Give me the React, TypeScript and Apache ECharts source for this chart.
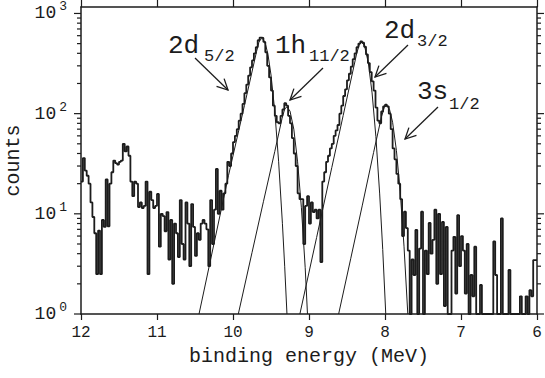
import React, { useEffect, useRef } from 'react';
import * as echarts from 'echarts';

// ---- data ----
// histogram: bins of 0.025 MeV, starting at 12 MeV and going down to 6 MeV
const E_START = 12;
const BIN_WIDTH = 0.025;
const counts: number[] = [
  21, 36, 27, 24, 20, 13, 9.3, 6.4, 2.5, 6.8,
  2.5, 8.7, 7.4, 22, 7.5, 20, 26, 34, 32, 31,
  33, 34, 50, 42, 47, 38, 21, 15, 21, 20,
  11.7, 13, 11.4, 12, 21, 2.5, 16.6, 13.7, 11.4, 12,
  15.8, 4.7, 10, 9.5, 6.7, 10.4, 3.5, 8.7, 2.0, 8,
  6.4, 3.7, 13.7, 5, 3.5, 13, 8, 3.0, 12.5, 7.4,
  3.8, 6.4, 5.5, 8, 8.7, 8, 7, 3, 13.7, 5,
  11, 28, 10, 17, 11, 16, 20, 33, 30, 40,
  52, 60, 70, 85, 100, 125, 160, 195, 240, 290,
  340, 400, 460, 540, 575, 570, 520, 410, 300, 230,
  170, 120, 95, 82, 80, 95, 110, 127, 120, 95,
  80, 57, 40, 30, 16, 14, 14, 5, 12, 15,
  8, 13, 10.4, 11, 9, 11, 3.3, 21, 26, 33,
  38, 45, 50, 60, 68, 77, 100, 120, 150, 175,
  215, 250, 295, 350, 400, 460, 500, 525, 510, 465,
  390, 320, 260, 210, 170, 115, 85, 80, 105, 118,
  123, 118, 100, 70, 45, 35, 25, 20, 14, 6,
  10.5, 7.2, 4.3, 1, 3.5, 2.45, 6.9, 1, 4.5, 10.5,
  1, 4.3, 2.5, 8.1, 4, 5.5, 11, 2, 10, 2.5,
  8.3, 1.2, 7.4, 1, 1, 4.3, 5.9, 1.6, 9.7, 3,
  6, 4.3, 1.6, 5, 1, 2.45, 1.5, 4.7, 1, 1,
  1.95, 1, 1, 1, 1, 1, 1, 5.3, 2.45, 1,
  1, 9, 1, 1, 1, 2.75, 1, 1, 1, 1,
  1, 1.5, 1, 1, 1.5, 1, 1.73, 1.5, 3.45, 3.45,
];

// fitted line shapes [binding energy, counts]
const fit2d52: number[][] = [
  [10.447, 1], [10.06, 24], [9.85, 120], [9.69, 417], [9.66, 513], [9.64, 550],
  [9.62, 562], [9.6, 550], [9.57, 486], [9.54, 390], [9.5, 243], [9.45, 105],
  [9.4, 33.5], [9.35, 8.05], [9.32, 3.0], [9.29, 1],
];
const fit1h112: number[][] = [
  [9.93, 1], [9.75, 4.1], [9.6, 13.2], [9.45, 42], [9.354, 90], [9.32, 111],
  [9.29, 117], [9.25, 106], [9.2, 70], [9.15, 33], [9.1, 11.5], [9.05, 2.9], [9.02, 1],
];
const fit2d32: number[][] = [
  [9.12, 1], [8.9, 5.8], [8.7, 29], [8.55, 96], [8.374, 394], [8.34, 485],
  [8.307, 519], [8.27, 477], [8.22, 324], [8.17, 161], [8.12, 59], [8.07, 15.8],
  [8.03, 4.4], [7.99, 1],
];
const fit3s12: number[][] = [
  [8.61, 1], [8.45, 3.6], [8.3, 12], [8.15, 41], [8.048, 92], [8.01, 115],
  [7.98, 121], [7.94, 110], [7.9, 82], [7.85, 43], [7.8, 16.7], [7.75, 4.75], [7.7, 1],
];

const X_MIN = 6;
const X_MAX = 12;
const Y_MIN = 1;
const Y_MAX = 1160;
const DECADES = [1, 10, 100];
const MANTISSAS = [1, 2, 3, 4, 5, 6, 7, 8, 9];

const FONT = "'Liberation Mono', 'Courier New', monospace";
const INK = '#1c1c1c';

function arrow(x1: number, y1: number, x2: number, y2: number) {
  const th = Math.atan2(y2 - y1, x2 - x1);
  const L = 12;
  const s = 0.47;
  return [
    { type: 'line', silent: true, shape: { x1, y1, x2, y2 }, style: { stroke: INK, lineWidth: 1.3 } },
    {
      type: 'polyline', silent: true,
      shape: {
        points: [
          [x2 - L * Math.cos(th - s), y2 - L * Math.sin(th - s)],
          [x2, y2],
          [x2 - L * Math.cos(th + s), y2 - L * Math.sin(th + s)],
        ],
      },
      style: { stroke: INK, lineWidth: 1.3, fill: 'none' },
    },
  ];
}

function label(text: string, sub: string, x: number, y: number, subX: number, subY: number) {
  return [
    { type: 'text', silent: true, x, y, style: { text, fontFamily: FONT, fontSize: 26, fill: INK, verticalAlign: 'middle', align: 'left' } },
    { type: 'text', silent: true, x: subX, y: subY, style: { text: sub, fontFamily: FONT, fontSize: 17, fill: INK, verticalAlign: 'middle', align: 'left' } },
  ];
}

export default function App() {
  const ref = useRef<HTMLDivElement>(null);
  useEffect(() => {
    const el = ref.current;
    if (!el) return;
    const chart = echarts.init(el, undefined, { renderer: 'svg' });

    const histData: number[][] = counts.map((c, i) => [E_START - BIN_WIDTH * i, c]);
    histData.push([E_START - BIN_WIDTH * counts.length, counts[counts.length - 1]]);

    const axisLine = { show: true, onZero: false, lineStyle: { color: INK, width: 1.5 } };
    const fitSeries = (data: number[][]) => ({
      type: 'line', data, symbol: 'none', showSymbol: false, smooth: false,
      lineStyle: { color: INK, width: 1 }, z: 2, silent: true,
    });

    chart.setOption({
      animation: false,
      grid: { left: 81, right: 8, top: 7, bottom: 64, containLabel: false, outerBoundsMode: 'none' },
      xAxis: [
        {
          type: 'value', min: X_MIN, max: X_MAX, interval: 1, inverse: true, position: 'bottom',
          axisLine, splitLine: { show: false },
          axisTick: { show: true, inside: false, length: 6, lineStyle: { color: INK, width: 1.2 } },
          axisLabel: { color: INK, fontFamily: FONT, fontSize: 16, margin: 11 },
          name: 'binding energy (MeV)', nameLocation: 'middle', nameGap: 32,
          nameTextStyle: { color: INK, fontFamily: FONT, fontSize: 20 },
        },
        {
          type: 'value', min: X_MIN, max: X_MAX, interval: 1, inverse: true, position: 'top',
          axisLine, splitLine: { show: false },
          axisTick: { show: true, inside: false, length: 7, lineStyle: { color: INK, width: 1.2 } },
          axisLabel: { show: false },
        },
      ],
      yAxis: [
        {
          type: 'log', logBase: 10, min: Y_MIN, max: Y_MAX, position: 'left',
          axisLine, axisTick: { show: false }, minorTick: { show: false }, splitLine: { show: false },
          axisLabel: {
            margin: 14, showMaxLabel: false,
            formatter: (v: number) => {
              const p = Math.log10(v);
              if (Math.abs(p - Math.round(p)) > 1e-6) return '';
              return `{b|10}{s|${Math.round(p)}}`;
            },
            rich: {
              b: { fontFamily: FONT, fontSize: 18, color: INK, lineHeight: 26 },
              s: { fontFamily: FONT, fontSize: 13, color: INK, lineHeight: 13, verticalAlign: 'top', padding: [0, 0, 0, 3] },
            },
          },
          name: 'counts', nameLocation: 'middle', nameGap: 57, nameRotate: 90,
          nameTextStyle: { color: INK, fontFamily: FONT, fontSize: 20 },
        },
        {
          type: 'log', logBase: 10, min: Y_MIN, max: Y_MAX, position: 'right',
          axisLine, axisTick: { show: false }, minorTick: { show: false }, splitLine: { show: false },
          axisLabel: { show: false },
        },
      ],
      series: [
        fitSeries(fit2d52),
        fitSeries(fit1h112),
        fitSeries(fit2d32),
        fitSeries(fit3s12),
        {
          type: 'line', data: histData, step: 'end', symbol: 'none', showSymbol: false,
          lineStyle: { color: INK, width: 1.8 }, z: 3, silent: true,
        },
      ],
    });

    // log ticks (major + minor) on both vertical axes, placed through the axis scale
    const xl = chart.convertToPixel({ xAxisIndex: 0 }, X_MAX) as number;
    const xr = chart.convertToPixel({ xAxisIndex: 0 }, X_MIN) as number;
    const tickVals: number[][] = [];
    DECADES.forEach((d) => MANTISSAS.forEach((m) => tickVals.push([m * d, m === 1 ? 1 : 0])));
    tickVals.push([1000, 1]);
    const ticks: any[] = [];
    tickVals.forEach(([v, major]) => {
      const y = chart.convertToPixel({ yAxisIndex: 0 }, v) as number;
      const len = major ? 7 : 4;
      ticks.push({ type: 'line', silent: true, shape: { x1: xl - len, y1: y, x2: xl, y2: y }, style: { stroke: INK, lineWidth: 1.2 } });
      ticks.push({ type: 'line', silent: true, shape: { x1: xr, y1: y, x2: xr + len, y2: y }, style: { stroke: INK, lineWidth: 1.2 } });
    });

    const annotations = [
      ...label('2d', '5/2', 168, 46, 204, 56),
      ...label('1h', '11/2', 275, 46, 309, 56),
      ...label('2d', '3/2', 384, 31, 417, 41),
      ...label('3s', '1/2', 417, 92, 449, 104),
      ...arrow(195, 58, 228, 90),
      ...arrow(323, 68, 290, 100),
      ...arrow(408, 45, 375, 77),
      ...arrow(438, 107, 405, 139),
    ];

    chart.setOption({ graphic: [...ticks, ...annotations] });

    return () => chart.dispose();
  }, []);
  return <div ref={ref} style={{ position: 'absolute', left: 0, top: 0, width: 545, height: 378 }} />;
}
